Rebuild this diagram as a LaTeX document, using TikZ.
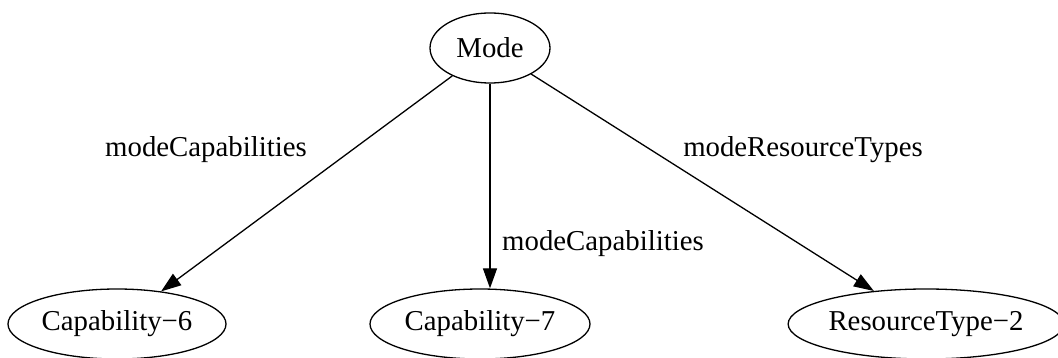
\documentclass[tikz,border=0pt]{standalone}
\usepackage{fontspec}
\setmainfont{Liberation Serif}
\usetikzlibrary{shapes.geometric,arrows.meta}
\begin{document}
\begin{tikzpicture}[x=1pt,y=-1pt,
  every node/.style={font=\fontsize{28.8}{34}\selectfont},
  state/.style={ellipse,draw,line width=1.3pt,inner sep=0pt},
  rel/.style={line width=1.3pt,-{Triangle[length=20pt,width=14pt]}},
  lbl/.style={inner sep=0pt}]
\useasboundingbox (0,0) rectangle (1058,358);
% nodes
\node[state,minimum width=120pt,minimum height=70pt] (mode) at (490,48) {Mode};
\node[state,minimum width=218pt,minimum height=70pt] (cap6) at (117,324) {Capability−6};
\node[state,minimum width=220pt,minimum height=70pt] (cap7) at (480,324) {Capability−7};
\node[state,minimum width=250pt,minimum height=70pt] (rt2) at (926,324) {ResourceType−2};
% edges
\draw[rel] (mode) -- (cap6);
\draw[rel] (mode.south) -- (mode.south |- cap7.north);
\draw[rel] (mode) -- (rt2);
% edge labels
\node[lbl] (l1) at (206,150) {modeCapabilities};
\node[lbl] (l2) at (603,244) {modeCapabilities};
\node[lbl] (l3) at (803,150) {modeResourceTypes};
\end{tikzpicture}
\end{document}
